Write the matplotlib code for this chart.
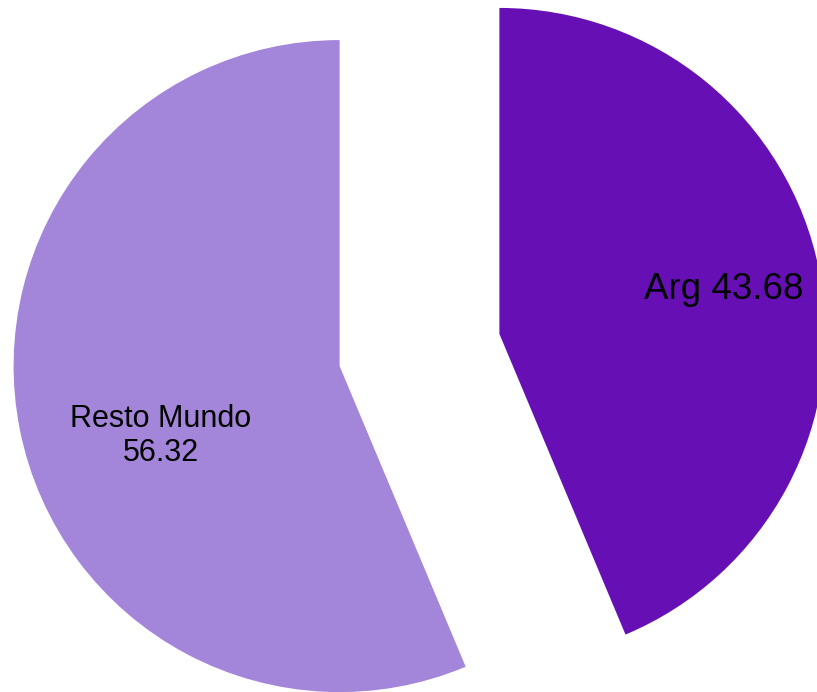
import matplotlib
matplotlib.use("Agg")
import matplotlib.pyplot as plt
import numpy as np

plt.rcParams['font.family'] = ['Liberation Sans', 'DejaVu Sans']

# datos
paises = ["Arg", "Resto Mundo"]
valores = [43.68, 56.32]
etiquetas = ["Arg 43.68", "Resto Mundo\n56.32"]
colores = ["#660fb5", "#a386d9"]
separacion = [0.25, 0.25]

fig = plt.figure(figsize=(8.17, 6.92), dpi=100)
ax = fig.add_axes([0, 0, 1, 1])

wedges, _ = ax.pie(valores, colors=colores, explode=separacion, startangle=90,
                   counterclock=False, radius=1, wedgeprops=dict(linewidth=0))

# posicion de las etiquetas (distancia desde el vertice de cada porcion)
dist_lbl = [0.70, 0.59]
giro_lbl = [-0.2, 10.0]
tam_lbl = [26.5, 22]
for w, txt, d, g, s in zip(wedges, etiquetas, dist_lbl, giro_lbl, tam_lbl):
    ang = np.deg2rad((w.theta1 + w.theta2) / 2 + g)
    cx, cy = w.center
    ax.text(cx + d * np.cos(ang), cy + d * np.sin(ang), txt, ha="center",
            va="center", fontsize=s, color="black", linespacing=1.15)

ax.set_aspect("equal")
ax.set_xlim(-1.2868, 1.2193)
ax.set_ylim(-1.049, 1.0736)
ax.axis("off")

fig.savefig("out.png", dpi=100, facecolor="white")
